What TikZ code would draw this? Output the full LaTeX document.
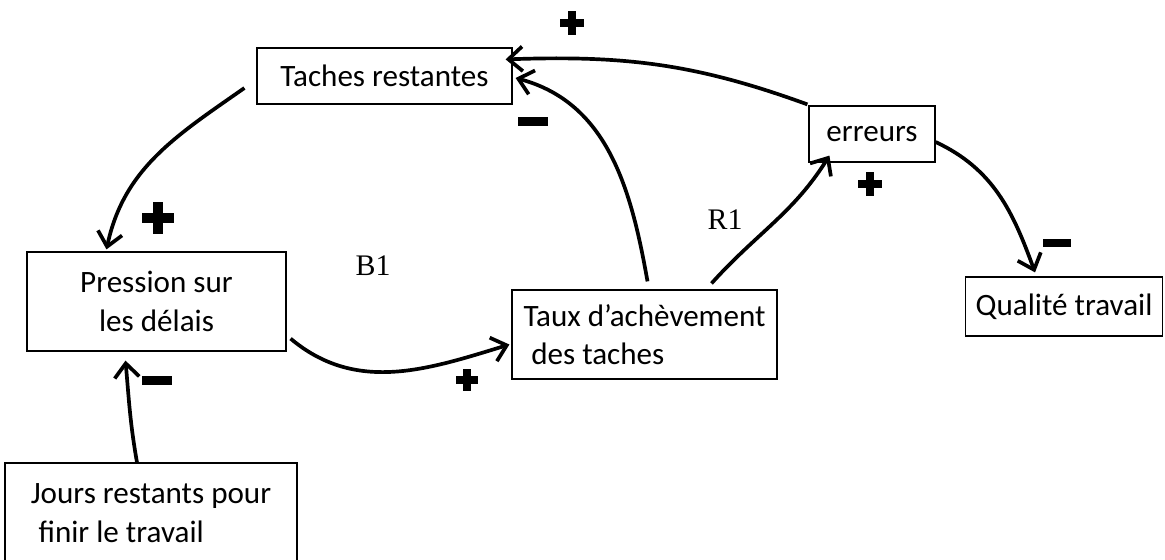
\documentclass[tikz,border=0pt]{standalone}
\usepackage{fontspec}
\setmainfont{Carlito}
\newfontfamily\loopfont{Liberation Serif}
\usepackage{tikz}
\usetikzlibrary{
		calc,
		arrows.meta
	}
\tikzset{
		>={Straight Barb[length=8pt,width=14pt]}
	}
\tikzset{
		var/.style={draw,line width=0.7pt,inner sep=0pt,align=center,font=\fontsize{17.7}{22}\selectfont},
		lien/.style={->,line width=2.1pt},
		boucle/.style={font=\loopfont\fontsize{17}{20}\selectfont},
		pics/pos/.style={code={\fill (-#1/2,-#1/6) rectangle (#1/2,#1/6); \fill (-#1/6,-#1/2) rectangle (#1/6,#1/2);}},
		pics/neg/.style={code={\fill (-#1/2,-#1*0.15) rectangle (#1/2,#1*0.15);}}
	}

\begin{document}
\begin{tikzpicture}[x=0.02cm,y=0.02cm]
          \useasboundingbox (0,0) rectangle (1165,-559);

          \node[var,minimum width=5.1cm,minimum height=1.12cm] (taches) at (384.5,-76) {Taches restantes};
          \node[var,minimum width=2.52cm,minimum height=1.12cm] (erreurs) at (872,-134) {erreurs};
          \node[var,minimum width=5.18cm,minimum height=1.98cm] (pression) at (156.5,-301.5) {Pression sur\\les délais};
          \node[var,align=left,minimum width=5.3cm,minimum height=1.78cm] (taux) at (644.5,-334.5) {Taux d’achèvement\\\hspace*{0.25em}des taches};
          \node[var,minimum width=3.94cm,minimum height=1.18cm] (qualite) at (1064,-306.5) {Qualité travail};
          \node[var,align=left,minimum width=5.84cm,minimum height=2cm] (jours) at (151,-513) {Jours restants pour\\\hspace*{0.25em}finir le travail};

          % liens de causalite
          \draw[lien] ($(taches.west)+(-12,-12)$) to[out=215,in=78] ($(pression.north)+(-50,2)$);
          \draw[lien] ($(pression.south east)+(4,13)$) to[out=-40,in=197] ($(taux.west)+(-2,-10)$);
          \draw[lien] ($(taux.north)+(3,8)$) to[out=100,in=-15] ($(taches.east)+(3,-2)$);
          \draw[lien] ($(erreurs.north west)+(-1,1)$) to[out=160,in=2] ($(taches.north east)+(-7,-12)$);
          \draw[lien] ($(taux.north)+(67,6)$) to[out=48,in=238] ($(erreurs.south west)+(21,7)$);
          \draw[lien] ($(erreurs.east)+(0,-8)$) to[out=-25,in=110] ($(qualite.north)+(-29,4)$);
          \draw[lien] ($(jours.north)+(-14,0)$) to[out=100,in=-85] ($(pression.south)+(-31,-9)$);

          % signes
          \pic at (572,-23) {pos=24};
          \pic at (158,-218) {pos=32};
          \pic at (870,-184) {pos=24};
          \pic at (467,-380) {pos=22};
          \pic at (533,-121) {neg=30};
          \pic at (157,-380) {neg=30};
          \pic at (1057,-243) {neg=28};

          \node[boucle] (b1) at (373,-266) {B1};
          \node[boucle] (r1) at (725,-220) {R1};

\end{tikzpicture}
\end{document}
